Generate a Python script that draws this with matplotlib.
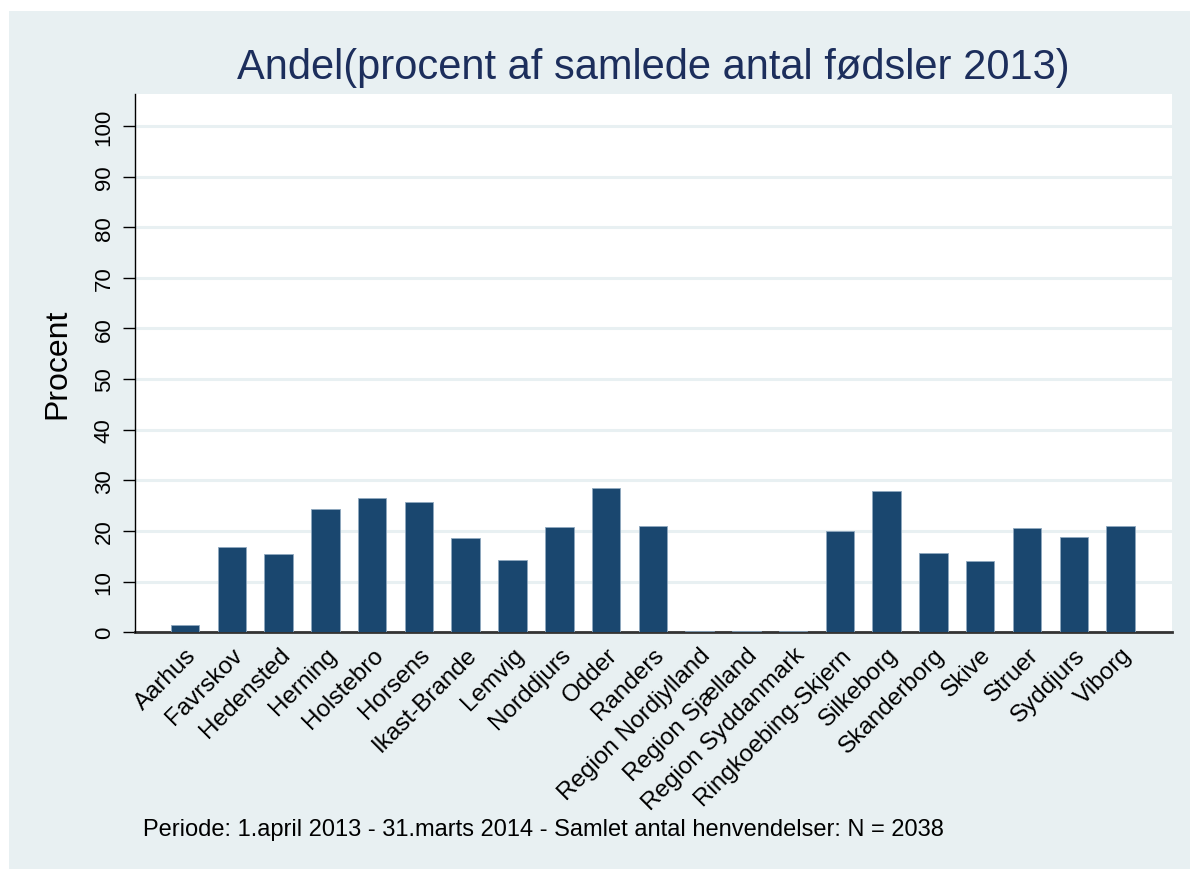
import matplotlib.pyplot as plt
from matplotlib.patches import Rectangle
import numpy as np

plt.rcParams["font.family"] = ["Liberation Sans", "DejaVu Sans"]

kommuner = [
    "Aarhus", "Favrskov", "Hedensted", "Herning", "Holstebro", "Horsens",
    "Ikast-Brande", "Lemvig", "Norddjurs", "Odder", "Randers",
    "Region Nordjylland", "Region Sjælland", "Region Syddanmark",
    "Ringkoebing-Skjern", "Silkeborg", "Skanderborg", "Skive", "Struer",
    "Syddjurs", "Viborg",
]
andel = [
    1.5, 16.8, 15.5, 24.3, 26.5, 25.8,
    18.6, 14.3, 20.7, 28.4, 20.9,
    0.3, 0.3, 0.3,
    20.0, 28.0, 15.7, 14.1, 20.5,
    18.8, 20.9,
]
y_ticks = list(range(0, 101, 10))

BG = "#E8F0F2"
BAR = "#1A476F"
TITLE = "#1C2E5C"

fig = plt.figure(figsize=(11.9, 8.7), dpi=100)
fig.patch.set_facecolor("white")
fig.add_artist(Rectangle((9 / 1190, 0), 1 - 9 / 1190, 1 - 12 / 870,
                         transform=fig.transFigure, facecolor=BG,
                         edgecolor="none", zorder=-10))

ax = fig.add_axes([135 / 1190, 1 - 633.3 / 870, (1172 - 135) / 1190, (633.3 - 95) / 870])
ax.set_facecolor("white")

x = np.arange(len(kommuner))
ax.bar(x, andel, width=0.61, color=BAR, edgecolor="#8FA8BF", linewidth=0.6, zorder=3)

ax.set_xlim(-1.07, len(kommuner) - 1 + 1.1)
ax.set_ylim(0, 106.3)
ax.set_yticks(y_ticks)
ax.set_yticklabels([str(t) for t in y_ticks], rotation=90, va="center", fontsize=16)
ax.tick_params(axis="y", length=8.6, width=1.0, pad=6)
ax.grid(axis="y", color=BG, linewidth=2.2, zorder=0)

ax.set_xticks(x)
ax.set_xticklabels(kommuner, rotation=45, ha="right", rotation_mode="anchor", fontsize=17.5)
ax.tick_params(axis="x", length=0, pad=8)

for side in ("top", "right"):
    ax.spines[side].set_visible(False)
ax.spines["left"].set_color("black")
ax.spines["left"].set_linewidth(1.0)
ax.spines["bottom"].set_color("#333333")
ax.spines["bottom"].set_linewidth(2.0)
ax.spines["bottom"].set_zorder(2)

ax.set_ylabel("Procent", fontsize=23)
ax.yaxis.set_label_coords(-(135 - 72) / (1172 - 135), 0.5)
fig.text((135 + 1172) / 2 / 1190, 1 - 68 / 870,
         "Andel(procent af samlede antal fødsler 2013)",
         ha="center", va="center", fontsize=30, color=TITLE)
fig.text(143 / 1190, 1 - 830 / 870,
         "Periode: 1.april 2013 - 31.marts 2014 - Samlet antal henvendelser: N = 2038",
         ha="left", va="center", fontsize=17, color="black")

fig.savefig("out.png", dpi=100, facecolor=fig.get_facecolor())
